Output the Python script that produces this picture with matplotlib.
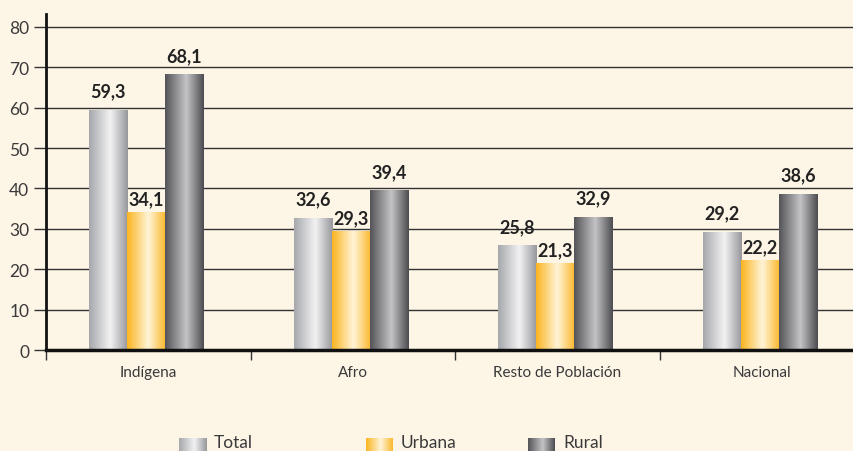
import numpy as np
import matplotlib
matplotlib.use('Agg')
import matplotlib.pyplot as plt
from matplotlib.colors import LinearSegmentedColormap

# datos
categorias = ['Indígena', 'Afro', 'Resto de Población', 'Nacional']
series = ['Total', 'Urbana', 'Rural']
total = [59.3, 32.6, 25.8, 29.2]
urbana = [34.1, 29.3, 21.3, 22.2]
rural = [68.1, 39.4, 32.9, 38.6]
etiquetas_y = [0, 10, 20, 30, 40, 50, 60, 70, 80]

fondo = '#fdf5e6'
texto = '#3a3a3a'
plt.rcParams['font.family'] = ['Lato', 'DejaVu Sans']

# degradados tipo cilindro
cmaps = {
    'Total': LinearSegmentedColormap.from_list('t', [(0, '#a6a7ab'), (0.55, '#f2f2f3'), (1, '#96979b')]),
    'Urbana': LinearSegmentedColormap.from_list('u', [(0, '#fbb41f'), (0.55, '#fff4d8'), (1, '#fbb82b')]),
    'Rural': LinearSegmentedColormap.from_list('r', [(0, '#545458'), (0.55, '#c4c4c6'), (1, '#4c4c50')]),
}
grad = np.linspace(0, 1, 256).reshape(1, -1)

fig = plt.figure(figsize=(8.54, 4.52), dpi=100, facecolor=fondo)
ax = fig.add_axes([46 / 854, 1 - 351 / 452, 1 - 46 / 854, (351 - 15) / 452])
ax.set_facecolor(fondo)

x = np.arange(len(categorias))
ancho = 0.186
for i, (nombre, vals) in enumerate(zip(series, [total, urbana, rural])):
    pos = x + (i - 1) * ancho - 0.01
    barras = ax.bar(pos, vals, ancho, color='none', zorder=3)
    for b, v in zip(barras, vals):
        x0 = b.get_x()
        ax.imshow(grad, cmap=cmaps[nombre], aspect='auto', zorder=3,
                  extent=[x0, x0 + ancho, 0, b.get_height()], interpolation='bicubic')
        dy = 14 if nombre != 'Urbana' else 10
        ax.annotate(f'{v:.1f}'.replace('.', ','), (x0 + ancho / 2, v), xytext=(0, dy),
                    textcoords='offset points', ha='center', va='center',
                    fontsize=13, fontweight='bold', color='#222222', zorder=4)

ax.set_xlim(-0.5, 3.45)
ax.set_ylim(0, 83.2)
ax.set_yticks(etiquetas_y)
ax.set_yticklabels([str(v) for v in etiquetas_y], fontsize=12.5, color=texto)
ax.yaxis.grid(True, color='#333333', linewidth=1, zorder=1)
ax.tick_params(axis='y', length=9, width=1, color='#333333', pad=3)

ax.set_xticks(x)
ax.set_xticklabels(categorias, fontsize=11, color=texto)
ax.set_xticks(np.arange(-0.5, 3.5, 1), minor=True)
ax.tick_params(axis='x', which='major', length=0, pad=11)
ax.tick_params(axis='x', which='minor', length=7, width=1, color='#333333')

for lado in ['top', 'right']:
    ax.spines[lado].set_visible(False)
ax.spines['left'].set_linewidth(2)
ax.spines['bottom'].set_linewidth(2.5)
ax.spines['left'].set_color('#111111')
ax.spines['bottom'].set_color('#111111')
ax.spines['left'].set_zorder(5)
ax.spines['bottom'].set_zorder(5)

# leyenda
leyenda_x = [179, 366, 528]
for nombre, lx in zip(series, leyenda_x):
    sw = fig.add_axes([lx / 854, 0, 27 / 854, 13 / 452])
    sw.imshow(grad, cmap=cmaps[nombre], aspect='auto', extent=[0, 1, 0, 1])
    sw.axis('off')
    fig.text((lx + 35) / 854, 1 - 443 / 452, nombre, fontsize=12.5, color=texto,
             va='center', ha='left')

fig.savefig('out.png', dpi=100, facecolor=fondo)
